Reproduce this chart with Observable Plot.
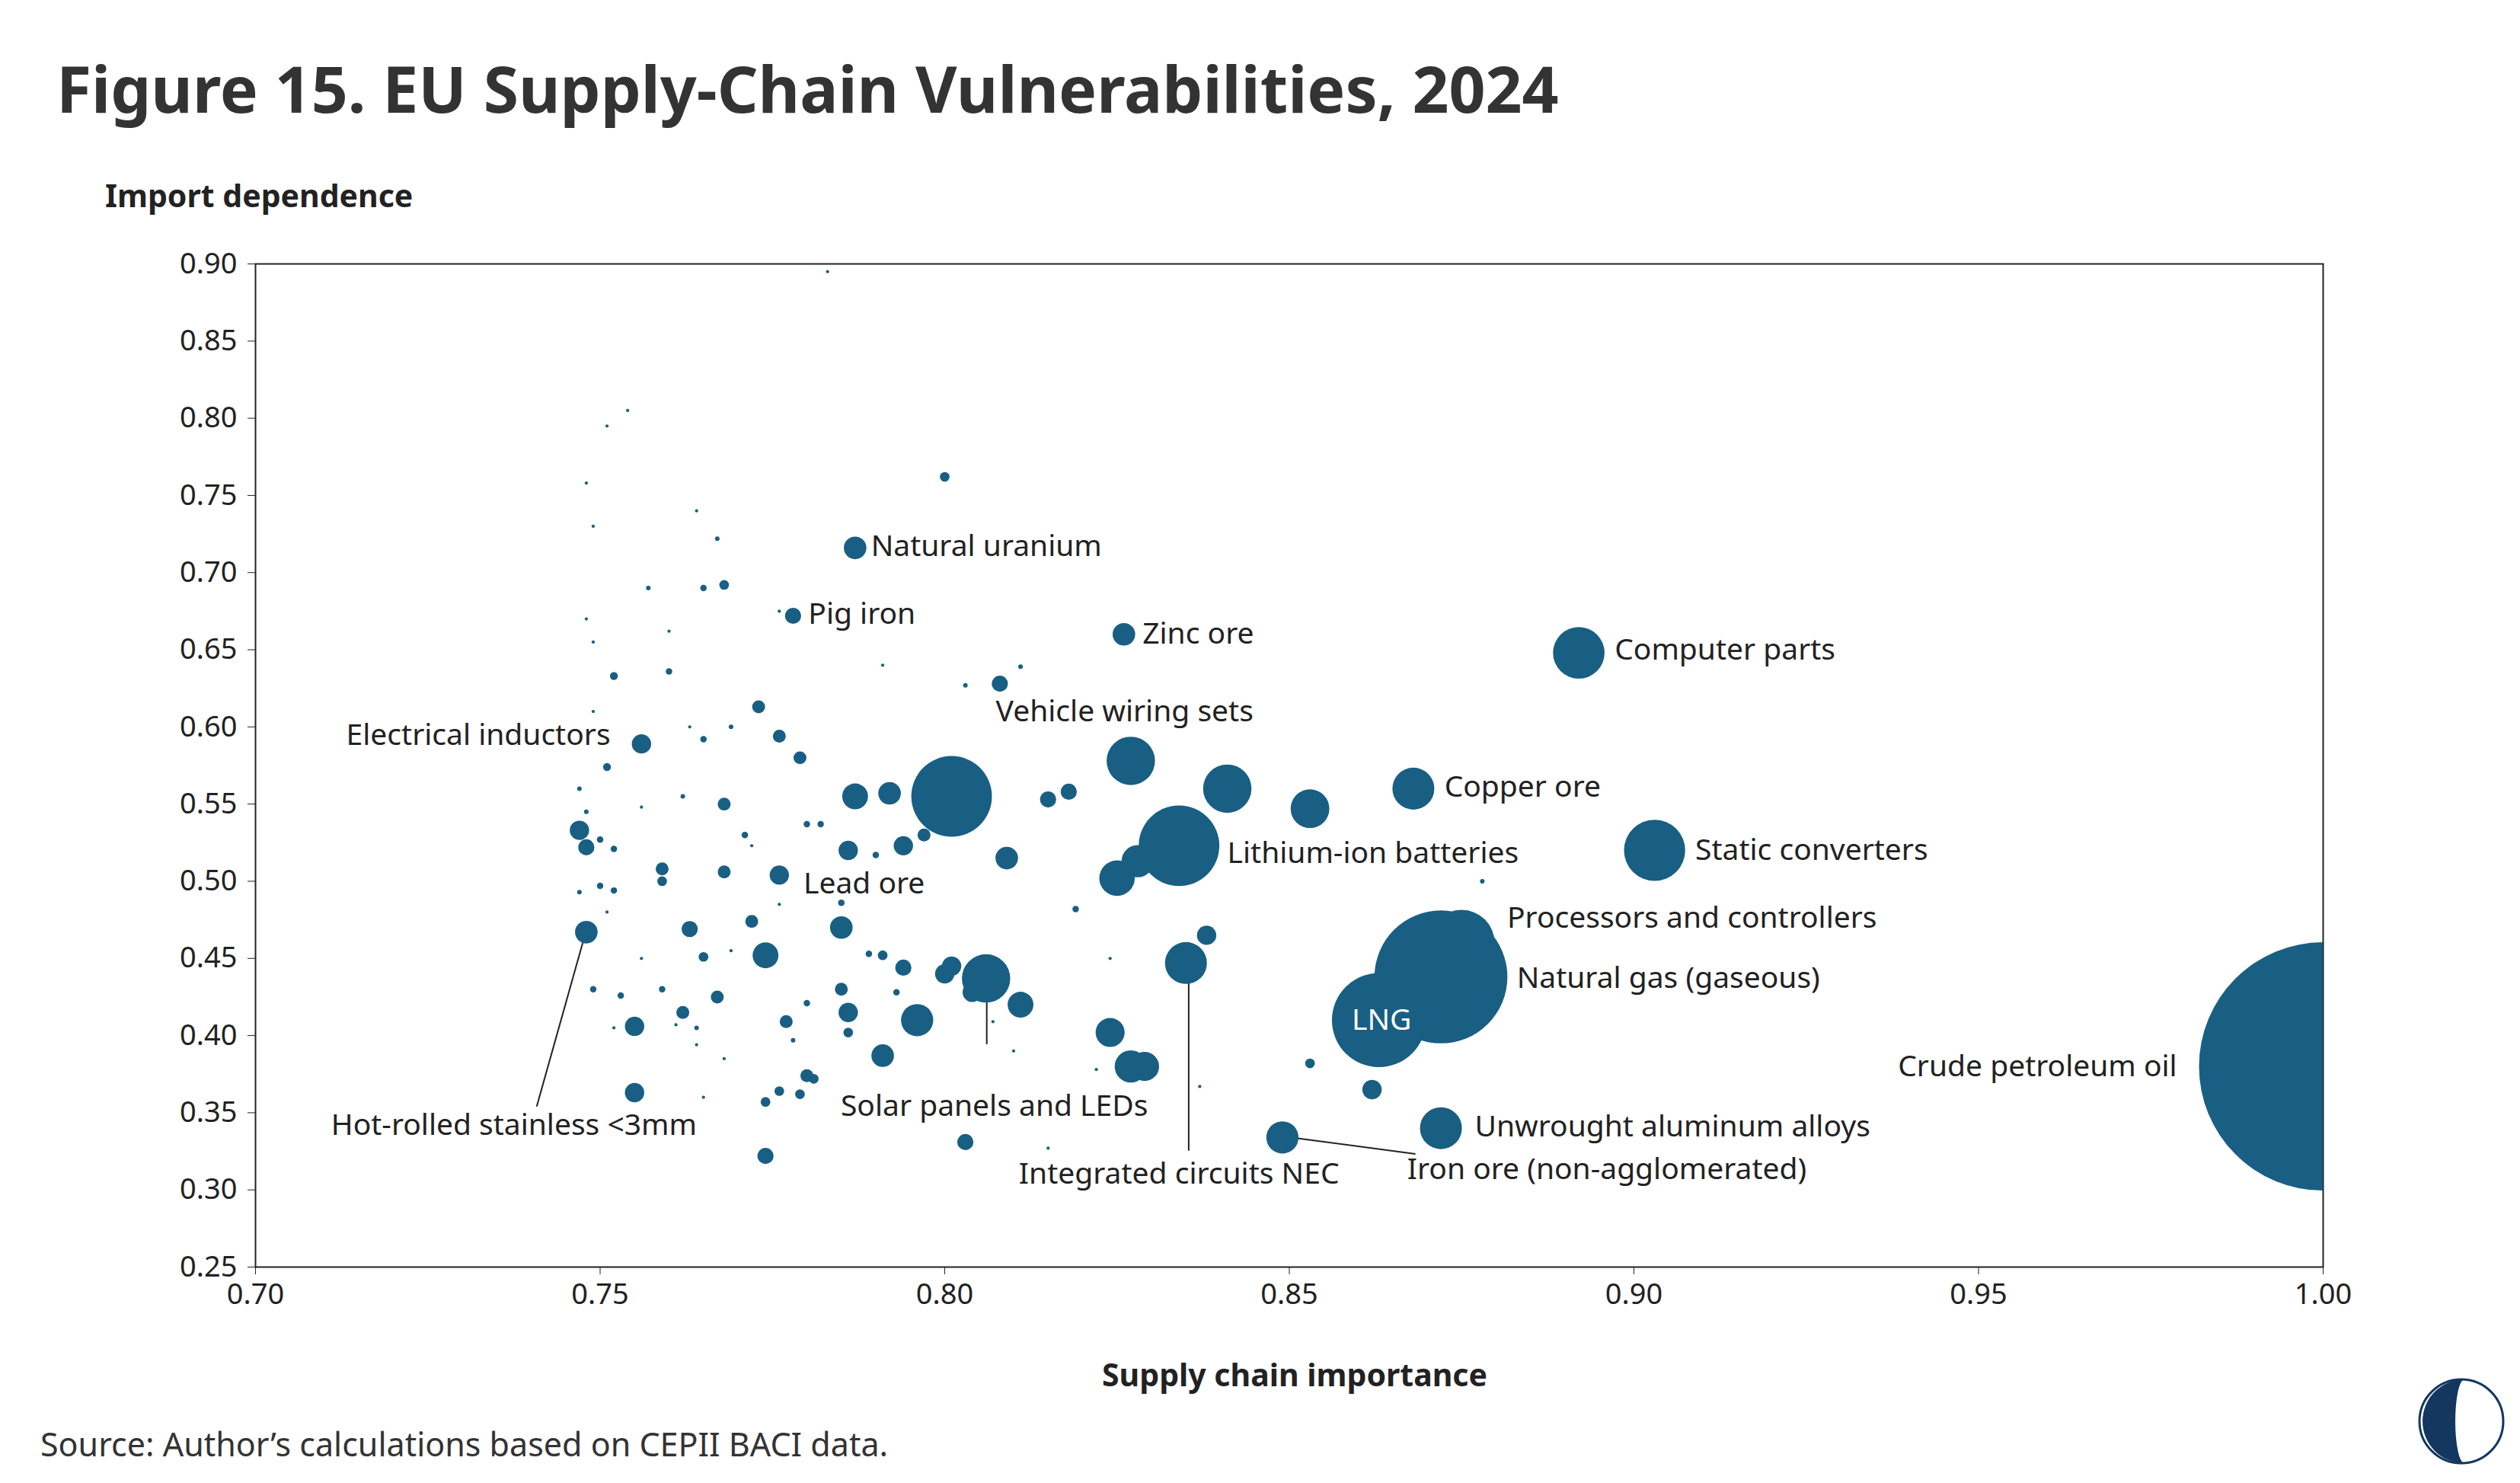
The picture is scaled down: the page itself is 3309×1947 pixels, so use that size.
<!DOCTYPE html>
<html>
<head>
<meta charset="utf-8">
<script src="https://cdn.jsdelivr.net/npm/d3@7"></script>
<script src="https://cdn.jsdelivr.net/npm/@observablehq/plot@0.6"></script>
<style>
  body { margin: 0; background: #fff; }
</style>
</head>
<body>
<main id="chart"></main>
<script>
// supply chain importance, import dependence, trade weight (area)
const xs = [1.000,0.872,0.875,0.863,0.903,0.892,0.868,0.834,0.827,0.801,0.841,0.853,0.872,0.849,0.835,0.838,0.806,0.787,0.826,0.778,0.756,0.776,0.748,
  0.825,0.828,0.811,0.796,0.824,0.827,0.829,0.787,0.792,0.809,0.815,0.818,0.786,0.794,0.797,0.774,0.785,0.786,0.791,0.803,0.774,0.755,0.755,0.747,0.748,
  0.800,0.773,0.776,0.768,0.765,0.808,0.862,0.853,0.779,0.768,0.768,0.763,0.759,0.759,0.762,0.765,0.767,0.772,0.777,0.780,0.776,0.774,0.779,0.781,0.785,0.786,0.791,0.794,0.800,0.801,0.804,
  0.783,0.754,0.751,0.748,0.749,0.764,0.767,0.757,0.760,0.748,0.749,0.752,0.760,0.776,0.791,0.803,0.811,0.749,0.751,0.747,0.748,0.750,0.752,0.756,0.762,0.763,0.765,0.769,0.771,0.772,0.780,0.782,0.785,0.790,
  0.747,0.750,0.752,0.751,0.749,0.752,0.753,0.756,0.759,0.761,0.764,0.765,0.764,0.768,0.769,0.776,0.778,0.780,0.789,0.793,0.797,0.800,0.807,0.810,0.819,0.824,0.837,0.878,0.822,0.815];
const ys = [0.380,0.438,0.460,0.410,0.520,0.648,0.560,0.523,0.578,0.555,0.560,0.547,0.340,0.334,0.447,0.465,0.437,0.716,0.660,0.672,0.589,0.504,0.467,
  0.502,0.513,0.420,0.410,0.402,0.380,0.380,0.555,0.557,0.515,0.553,0.558,0.520,0.523,0.530,0.452,0.470,0.415,0.387,0.331,0.322,0.406,0.363,0.533,0.522,
  0.762,0.613,0.594,0.692,0.690,0.628,0.365,0.382,0.580,0.550,0.506,0.469,0.508,0.500,0.415,0.451,0.425,0.474,0.409,0.374,0.364,0.357,0.362,0.372,0.430,0.402,0.452,0.444,0.440,0.445,0.428,
  0.895,0.805,0.795,0.758,0.730,0.740,0.722,0.690,0.662,0.670,0.655,0.633,0.636,0.675,0.640,0.627,0.639,0.610,0.574,0.560,0.545,0.527,0.521,0.548,0.555,0.600,0.592,0.600,0.530,0.523,0.537,0.537,0.486,0.517,
  0.493,0.497,0.494,0.480,0.430,0.405,0.426,0.450,0.430,0.407,0.394,0.360,0.405,0.385,0.455,0.485,0.397,0.421,0.453,0.428,0.414,0.437,0.409,0.390,0.482,0.450,0.367,0.500,0.378,0.327];
const weights = [5929,1700,420,850,360,256,169,625,225,625,225,144,169,100,169,36,225,49,49,25,36,36,49,
  121,100,64,100,81,100,81,64,49,49,25,25,36,36,16,64,49,36,49,25,25,36,36,36,25,
  9,16,16,9,4,25,36,9,16,16,16,25,16,9,16,9,16,16,16,16,9,9,9,9,16,9,9,25,36,36,36,
  1,1,1,1,1,1,2,2,1,1,1,6,4,1,1,2,2,1,6,2,2,4,4,1,2,1,4,2,4,1,4,4,4,4,
  2,4,4,1,4,1,4,1,4,1,1,1,2,1,1,1,2,4,4,4,4,9,1,1,4,1,1,2,1,1];

const labelNames = ["Natural uranium","Pig iron","Zinc ore","Computer parts","Vehicle wiring sets","Electrical inductors","Copper ore",
  "Lithium-ion batteries","Static converters","Lead ore","Processors and controllers","Natural gas (gaseous)","LNG","Crude petroleum oil",
  "Unwrought aluminum alloys","Iron ore (non-agglomerated)","Integrated circuits NEC","Solar panels and LEDs","Hot-rolled stainless <3mm"];
const labelX = [0.7893,0.7802,0.8287,0.8972,0.8261,0.7515,0.8725,0.8410,0.9089,0.7795,0.8816,0.8830,0.8634,0.9788,0.8769,0.8671,0.8340,0.8072,0.7375];
const labelY = [0.7168,0.6729,0.6603,0.6498,0.6100,0.5944,0.5609,0.5180,0.5200,0.4980,0.4760,0.4370,0.4100,0.3800,0.3410,0.3130,0.3100,0.3540,0.3420];
const labelAnchor = ["start","start","start","start","middle","end","start","start","start","start","start","start","middle","end","start","start","middle","middle","middle"];

// leader lines
const leadX1 = [0.7408,0.8061,0.8354,0.8508];
const leadY1 = [0.3540,0.3944,0.3254,0.3337];
const leadX2 = [0.7481,0.8061,0.8354,0.8683];
const leadY2 = [0.4700,0.4363,0.4363,0.3233];

const xTicks = [0.70,0.75,0.80,0.85,0.90,0.95,1.00];
const yTicks = [0.25,0.30,0.35,0.40,0.45,0.50,0.55,0.60,0.65,0.70,0.75,0.80,0.85,0.90];

const points = xs.map((x, i) => ({x, y: ys[i], w: weights[i]}));
const labels = labelNames.map((t, i) => ({t, x: labelX[i], y: labelY[i], a: labelAnchor[i]}));
const leads = leadX1.map((x, i) => ({x1: x, y1: leadY1[i], x2: leadX2[i], y2: leadY2[i]}));

const dotColor = "#185f83";
const font = "'Noto Sans', sans-serif";

let chart = Plot.plot({
  width: 3309,
  height: 1947,
  marginTop: 346,
  marginBottom: 284,
  marginLeft: 335,
  marginRight: 259,
  x: {domain: [0.70, 1.00], ticks: xTicks, tickFormat: d3.format(".2f"), label: null},
  y: {domain: [0.25, 0.90], ticks: yTicks, tickFormat: d3.format(".2f"), label: null},
  r: {type: "sqrt", domain: [0, 5929], range: [0, 163]},
  style: {fontFamily: font, fontSize: 38, color: "#222", background: "#fff"},
  marks: [
    Plot.frame({stroke: "#222", strokeWidth: 2}),
    Plot.link(leads, {x1: "x1", y1: "y1", x2: "x2", y2: "y2", stroke: "#222", strokeWidth: 2}),
    Plot.dot(points, {x: "x", y: "y", r: "w", fill: dotColor, clip: true}),
    Plot.text(labels.filter(d => d.a === "start"), {x: "x", y: "y", text: "t", textAnchor: "start", fontSize: 39, fill: "#222"}),
    Plot.text(labels.filter(d => d.a === "end"), {x: "x", y: "y", text: "t", textAnchor: "end", fontSize: 39, fill: "#222"}),
    Plot.text(labels.filter(d => d.a === "middle"), {x: "x", y: "y", text: "t", textAnchor: "middle", fontSize: 39, fill: d => d.t === "LNG" ? "#fff" : "#222"}),
    Plot.axisX({ticks: xTicks, tickFormat: d3.format(".2f"), tickSize: 10, tickPadding: 12, fontSize: 38, label: null}),
    Plot.axisY({ticks: yTicks, tickFormat: d3.format(".2f"), tickSize: 10, tickPadding: 14, fontSize: 38, label: null})
  ]
});

const svg = d3.select(chart);
const add = (x, y, txt, size, weight, anchor, fill) =>
  svg.append("text").attr("x", x).attr("y", y).attr("text-anchor", anchor || "start")
    .attr("font-family", font).attr("font-size", size).attr("font-weight", weight)
    .attr("fill", fill || "#222").text(txt);

add(74, 148, "Figure 15. EU Supply-Chain Vulnerabilities, 2024", 84, 700, "start", "#333");
add(138, 272, "Import dependence", 41, 700);
add(1700, 1820, "Supply chain importance", 41, 700, "middle");
add(53, 1912, "Source: Author\u2019s calculations based on CEPII BACI data.", 43, 400, "start", "#333");

// logo
const lg = svg.append("g").attr("transform", "translate(3232,1866)");
lg.append("circle").attr("r", 55).attr("fill", "#fff").attr("stroke", "#13375e").attr("stroke-width", 3);
lg.append("path").attr("d", "M4,-55 A55,55 0 0 0 4,55 A12,55 0 0 1 4,-55 Z").attr("fill", "#13375e");

d3.select("#chart").append(() => chart);
</script>
</body>
</html>
